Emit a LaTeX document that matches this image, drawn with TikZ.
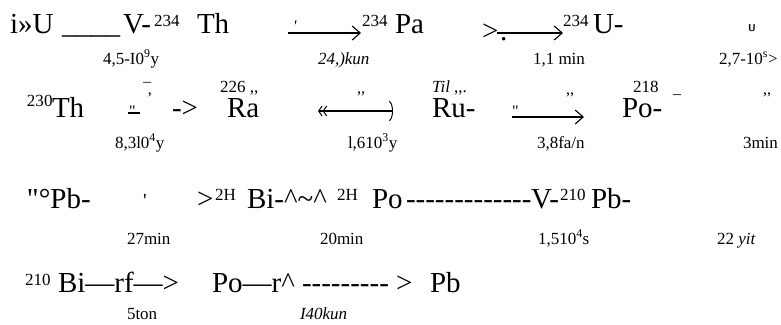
\documentclass[tikz,border=0pt]{standalone}
\usepackage{fontspec}
\setmainfont{Liberation Serif}[Ligatures=TeXOff]
\usetikzlibrary{arrows.meta}

\begin{document}
\begin{tikzpicture}[x=1pt,y=-1pt]
\tikzset{
  txt/.style={anchor=base west,inner sep=0pt,outer sep=0pt},
  elem/.style={txt,font=\fontsize{29}{32}\selectfont},
  iso/.style={txt,font=\fontsize{17}{19}\selectfont},
  halflife/.style={txt,font=\fontsize{17}{19}\selectfont},
  stray/.style={txt,font=\fontsize{16}{18}\selectfont},
  decay/.style={draw=black,line width=1.1pt,line cap=butt},
  barb/.style={decay,-{Straight Barb[length=8pt,width=14pt,line width=1.1pt]}}
}
\useasboundingbox (0,0) rectangle (781,324);
% row 1
\node[elem] (n_U238) at (10,33) {i»U};
\node[elem] (n_blank) at (62,33) {\_\_\_\_};
\node[elem] (n_V1) at (123,33) {V-};
\node[iso] (n_s234a) at (154,26.5) {234};
\node[elem] (n_Th234) at (197,33) {Th};
\node[stray] (n_tick1) at (293,31) {\textit{'}};
\coordinate (a1s) at (288,33);
\coordinate (a1e) at (361,33);
\node[iso] (n_s234b) at (362,26.5) {234};
\node[elem] (n_Pa234) at (395,33) {Pa};
\node[elem] (n_gt1) at (482,40) {>};
\node[elem] (n_dot1) at (500,40) {.};
\coordinate (a2s) at (497,33);
\coordinate (a2e) at (563,33);
\node[iso] (n_s234c) at (563,26.5) {234};
\node[elem] (n_U234) at (593,33) {U-};
\node[txt,font=\sffamily\bfseries\fontsize{10}{12}\selectfont] (n_smallU) at (748,31) {U};
\node[halflife] (n_t1) at (103,64) {4,5-I0\textsuperscript{9}y};
\node[halflife] (n_t2) at (318,64) {\textit{24,)kun}};
\node[halflife] (n_t3) at (533,64) {1,1 min};
\node[halflife] (n_t4) at (719,64) {2,7-10\textsuperscript{s}>};
\draw[barb] (a1s) -- (a1e);
\draw[barb] (a2s) -- (a2e);
% row 2
\node[iso] (n_s230) at (27,106) {230};
\node[elem] (n_Th230) at (52,117) {Th};
\node[stray] (n_dq1) at (129,116) {"};
\coordinate (u1s) at (128,113);
\coordinate (u1e) at (140,113);
\node[stray] (n_mc) at (143,94) {\textasciimacron\kern-.2em,};
\node[elem] (n_arr1) at (172,117) {->};
\node[iso] (n_s226) at (220,92) {226 ,,};
\node[elem] (n_Ra226) at (227,117) {Ra};
\coordinate (a3s) at (318,111);
\coordinate (a3e) at (393,111);
\node[stray] (n_q1) at (357,93) {,,};
\node[iso] (n_til) at (432,92) {\textit{Til} ,,.};
\node[elem] (n_Rn222) at (432,117) {Ru-};
\node[stray] (n_dq2) at (512,116) {"};
\coordinate (a4s) at (512,117);
\coordinate (a4e) at (584,117);
\node[stray] (n_q2) at (566,94) {,,};
\node[iso] (n_s218) at (633,92) {218};
\node[stray] (n_us) at (673,93) {\_};
\node[elem] (n_Po218) at (622,117) {Po-};
\node[stray] (n_q3) at (763,94) {,,};
\node[halflife] (n_t5) at (115,148) {8,3l0\textsuperscript{4}y};
\node[halflife] (n_t6) at (348,148) {l,610\textsuperscript{3}y};
\node[halflife] (n_t7) at (537,148) {3,8fa/n};
\node[halflife] (n_t8) at (743,148) {3min};
\draw[decay] (u1s) -- (u1e);
\draw[decay,{Straight Barb[length=3.5pt,width=10pt,line width=1pt]Straight Barb[length=3.5pt,width=10pt,line width=1pt]}-{Arc Barb[length=4pt,width=20pt,line width=1pt]}] (a3s) -- (a3e);
\draw[barb] (a4s) -- (a4e);
% row 3
\node[elem] (n_Pb214) at (27,208) {"°Pb-};
\node[txt,font=\fontsize{20}{22}\selectfont] (n_tick2) at (143,207) {'};
\node[elem] (n_gt2) at (197,208) {>};
\node[iso] (n_s2Ha) at (215,200) {2H};
\node[elem] (n_Bi214) at (247,208) {Bi-\textasciicircum\textasciitilde\textasciicircum};
\node[iso] (n_s2Hb) at (337,200) {2H};
\node[elem] (n_Po214) at (372,208) {Po};
\node[elem] (n_dash1) at (406,208) {-------------};
\node[elem] (n_V2) at (531,208) {V-};
\node[iso] (n_s210a) at (560,200) {210};
\node[elem] (n_Pb210) at (591,208) {Pb-};
\node[halflife] (n_t9) at (127,244) {27min};
\node[halflife] (n_t10) at (320,244) {20min};
\node[halflife] (n_t11) at (538,244) {1,510\textsuperscript{4}s};
\node[halflife] (n_t12) at (717,244) {22 \textit{yit}};
% row 4
\node[iso] (n_s210b) at (25,285) {210};
\node[elem] (n_Bi210) at (58,292) {Bi—rf—>};
\node[elem] (n_Po210) at (212,292) {Po—r\textasciicircum};
\node[elem] (n_dash2) at (302,292) {--------- >};
\node[elem] (n_Pb206) at (430,292) {Pb};
\node[halflife] (n_t13) at (127,319) {5ton};
\node[halflife] (n_t14) at (300,319) {\textit{I40kun}};
\end{tikzpicture}
\end{document}
